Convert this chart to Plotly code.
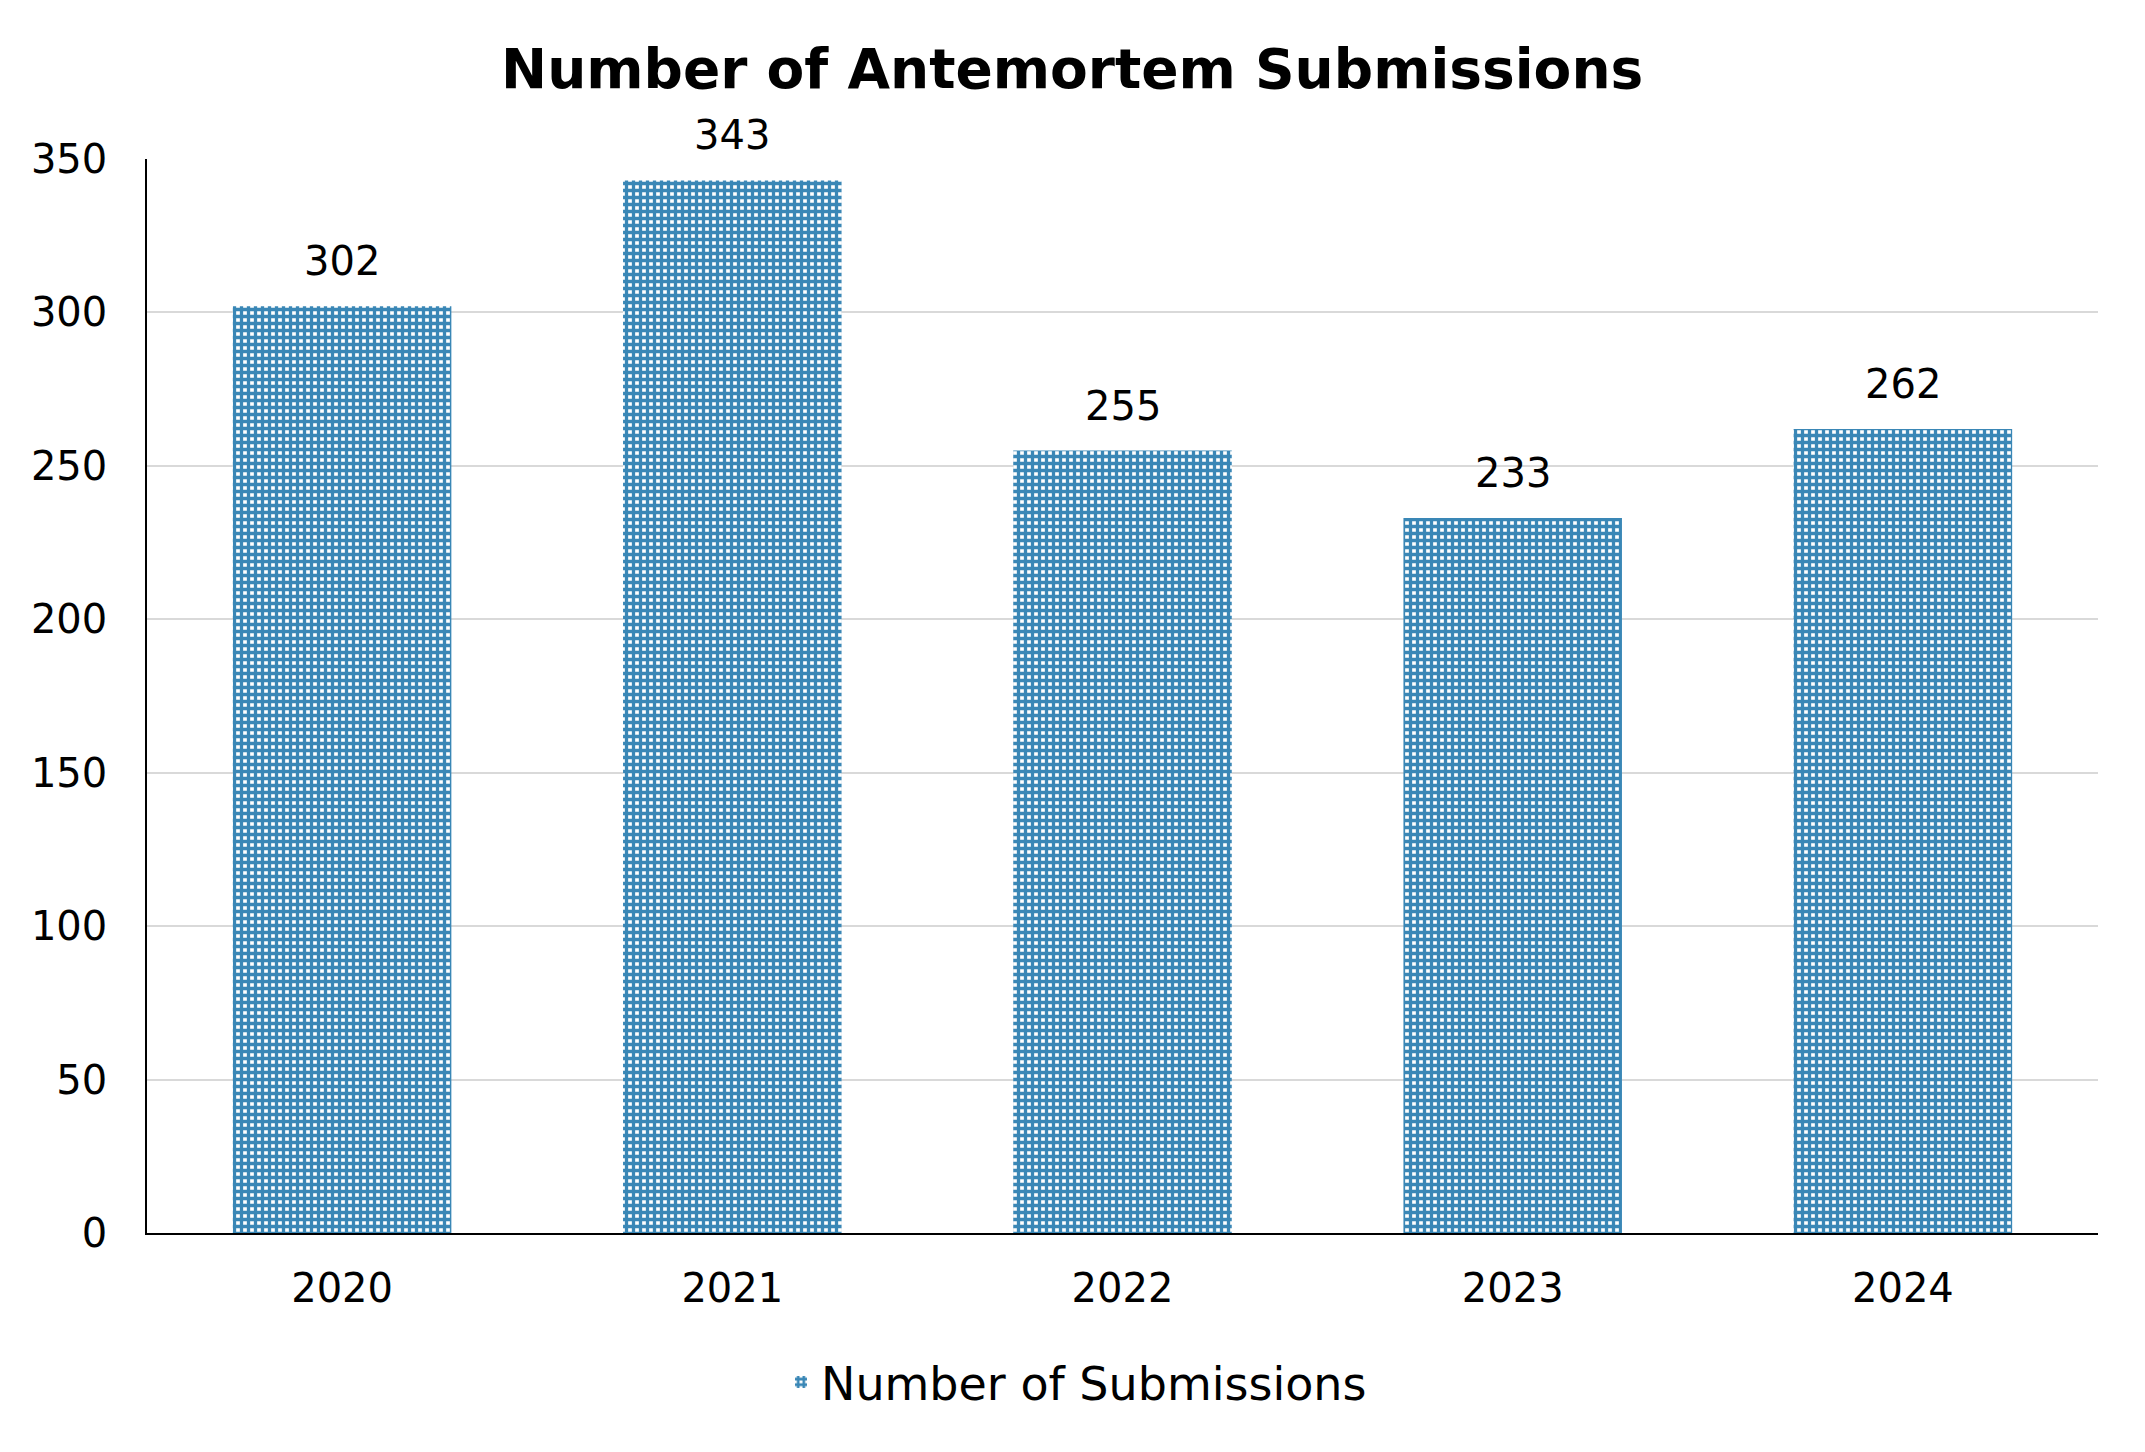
import plotly.graph_objects as go

# chart data
years = ["2020", "2021", "2022", "2023", "2024"]
submissions = [302, 343, 255, 233, 262]
y_ticks = [0, 50, 100, 150, 200, 250, 300, 350]

BLUE = "#3A87B6"
FONT = "DejaVu Sans, Verdana, sans-serif"

# page body adds an 8px margin, so the figure is a bit smaller than the window
W, H = 2137, 1444

fig = go.Figure()
fig.add_trace(go.Bar(
    x=years,
    y=submissions,
    name="Number of Submissions",
    marker=dict(
        color=BLUE,
        line=dict(width=0),
        pattern=dict(shape="+", fgcolor=BLUE, bgcolor="white",
                     size=7, solidity=0.72, fillmode="replace"),
    ),
    showlegend=True,
))

# value labels above the bars (x given as category index)
for i, val in enumerate(submissions):
    fig.add_annotation(x=i, y=val, text=str(val), showarrow=False,
                       yanchor="bottom", yshift=20,
                       font=dict(family=FONT, size=40, color="black"))

fig.update_layout(
    width=W, height=H,
    paper_bgcolor="white", plot_bgcolor="white",
    margin=dict(l=139, r=47, t=151, b=219),
    bargap=0.44,
    font=dict(family=FONT, size=40, color="black"),
    title=dict(text="Number of Antemortem Submissions",
               font=dict(family=FONT, size=55, color="black", weight="bold"),
               xref="container", x=0.498, xanchor="center",
               yref="container", y=1 - 61 / H, yanchor="middle"),
    legend=dict(orientation="h", xref="container", x=0.5, xanchor="center",
                yref="container", y=1 - 1374 / H, yanchor="middle",
                font=dict(family=FONT, size=46, color="black")),
)

fig.update_yaxes(range=[0, 350], tickvals=y_ticks,
                 showgrid=True, gridcolor="#D9D9D9", gridwidth=1.7,
                 showline=True, linecolor="black", linewidth=1.5,
                 ticks="", ticklabelstandoff=30, zeroline=False,
                 tickfont=dict(family=FONT, size=40, color="black"))
fig.update_xaxes(type="category", range=[-0.5, len(years) - 0.5],
                 showline=True, linecolor="black",
                 linewidth=1.5, ticks="", ticklabelstandoff=19,
                 tickfont=dict(family=FONT, size=40, color="black"))

fig.write_html("out.html")
